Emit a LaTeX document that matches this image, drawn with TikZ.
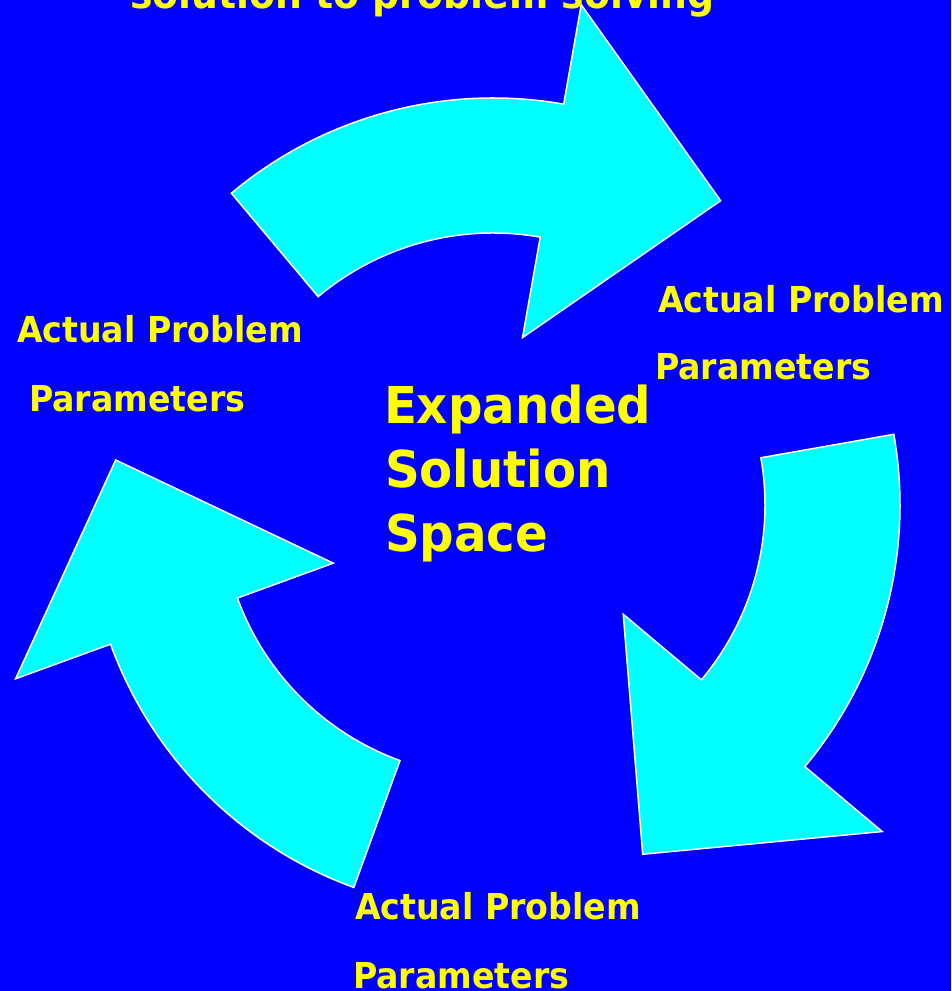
\documentclass[tikz,border=0pt]{standalone}
\usepackage{fontspec}
\newfontfamily\labfont{DejaVu Sans}[FakeStretch=0.93]
\newfontfamily\bigfont{DejaVu Sans}[FakeStretch=0.95]
\definecolor{bgblue}{HTML}{0000FF}
\definecolor{arrcyan}{HTML}{00FFFF}
\definecolor{txtyellow}{HTML}{FFFF00}
\tikzset{
  arrowshape/.style={fill=arrcyan, draw=white, line width=1.5pt, line join=miter},
  lbl/.style={anchor=base west, inner sep=0pt, outer sep=0pt, text=txtyellow,
              font=\labfont\bfseries\fontsize{35.7}{40}\selectfont},
  bigtxt/.style={anchor=base west, inner sep=0pt, outer sep=0pt, text=txtyellow,
              font=\bigfont\bfseries\fontsize{50.8}{56}\selectfont},
  toptxt/.style={anchor=base west, inner sep=0pt, outer sep=0pt, text=txtyellow,
              font=\labfont\bfseries\fontsize{40.6}{46}\selectfont}
}
\begin{document}
\begin{tikzpicture}[x=1pt,y=1pt]
\useasboundingbox (0,0) rectangle (951,991);
\fill[bgblue] (0,0) rectangle (951,991);
\clip (0,0) rectangle (951,991);
% three curved arrows around a common centre
\foreach \rot in {0,-120,120}{
  \begin{scope}[shift={(493,486)}, rotate=\rot]
    \path[arrowshape] (130:272) -- (130:407)
      arc[start angle=130, end angle=80, radius=407]
      -- (80:508) -- (53.2:380) -- (80:170) -- (80:272)
      arc[start angle=80, end angle=130, radius=272] -- cycle;
  \end{scope}
}
% title line (cut off at the top)
\node[toptxt] (title) at (130,982.5) {solution to problem solving};
% labels
\node[lbl] (r1) at (658,678) {Actual Problem};
\node[lbl] (r2) at (655,611) {Parameters};
\node[lbl] (l1) at (17,648) {Actual Problem};
\node[lbl] (l2) at (29,579) {Parameters};
\node[lbl] (b1) at (355,71) {Actual Problem};
\node[lbl] (b2) at (353,2) {Parameters};
% centre text
\node[bigtxt] (c1) at (384,567) {Expanded};
\node[bigtxt] (c2) at (385,503) {Solution};
\node[bigtxt] (c3) at (385,439) {Space};
\end{tikzpicture}
\end{document}
